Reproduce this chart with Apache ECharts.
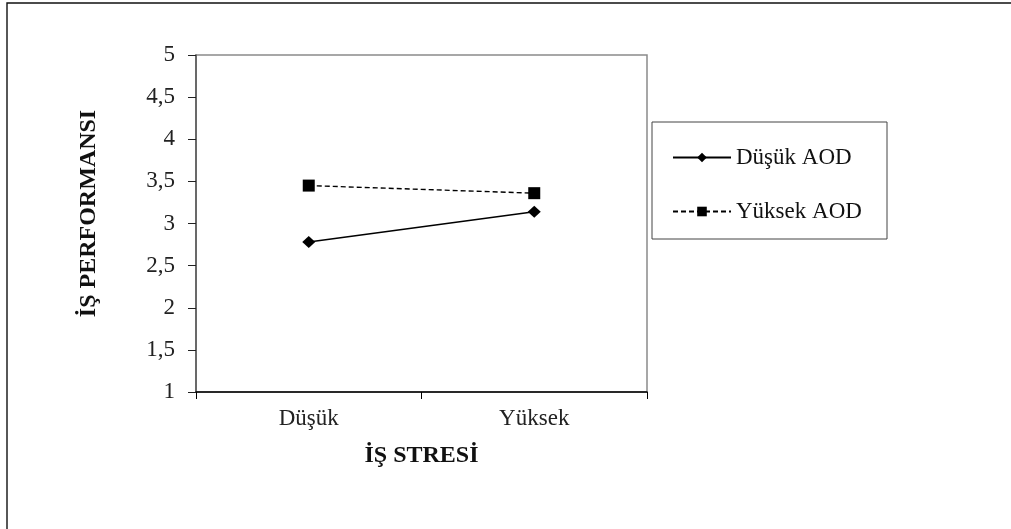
<!DOCTYPE html>
<html>
<head>
<meta charset="utf-8">
<script src="https://cdn.jsdelivr.net/npm/echarts@6/dist/echarts.min.js"></script>
<style>
  html, body { margin: 0; padding: 0; background: #fff; }
  #chart { width: 1011px; height: 529px; }
</style>
</head>
<body>
<div id="chart"></div>
<script>
// kategoriler ve seriler
const categories = ['Düşük', 'Yüksek']
const dusukAOD = [2.78, 3.14] // Düşük AOD
const yuksekAOD = [3.45, 3.36] // Yüksek AOD
const seriesNames = ['Düşük AOD', 'Yüksek AOD']
const yTicks = [1, 1.5, 2, 2.5, 3, 3.5, 4, 4.5, 5]

const serif = 'Liberation Serif, Times New Roman, serif'
const myChart = echarts.init(document.getElementById('chart'))
const option = {
  animation: false,
  backgroundColor: '#fff',
  textStyle: { fontFamily: serif },
  graphic: [
    {
      // dış çerçeve
      type: 'rect',
      shape: { x: 7, y: 3, width: 1100, height: 600 },
      style: { fill: 'none', stroke: '#111', lineWidth: 1.4 }
    },
    {
      // lejant kutusu
      type: 'rect',
      shape: { x: 652, y: 122, width: 235, height: 117 },
      style: { fill: 'none', stroke: '#444', lineWidth: 1 }
    }
  ],
  grid: {
    left: 196,
    top: 55,
    right: 364,
    bottom: 137,
    show: true,
    borderColor: '#8a8a8a',
    borderWidth: 1.5
  },
  legend: {
    orient: 'vertical',
    left: 667,
    top: 141,
    itemWidth: 58,
    itemHeight: 12,
    itemGap: 31,
    data: seriesNames,
    textStyle: { fontFamily: serif, fontSize: 23, color: '#111' }
  },
  xAxis: {
    type: 'category',
    data: categories,
    boundaryGap: true,
    name: 'İŞ STRESİ',
    nameLocation: 'middle',
    nameGap: 52,
    nameTextStyle: { fontFamily: serif, fontSize: 24, fontWeight: 'bold', color: '#111' },
    axisLine: { lineStyle: { color: '#000', width: 1.5 } },
    axisTick: { show: true, interval: 0, length: 7, lineStyle: { color: '#000' } },
    axisLabel: { margin: 15, fontFamily: serif, fontSize: 23, color: '#222' },
    splitLine: { show: false }
  },
  yAxis: {
    type: 'value',
    min: 1,
    max: 5,
    interval: 0.5,
    name: 'İŞ PERFORMANSI',
    nameLocation: 'middle',
    nameGap: 95,
    nameTextStyle: { fontFamily: serif, fontSize: 24, fontWeight: 'bold', color: '#111', padding: [0, 0, 0, 20] },
    axisLine: { show: true, lineStyle: { color: '#555', width: 1.5 } },
    axisTick: { show: true, length: 8, lineStyle: { color: '#222' } },
    axisLabel: {
      margin: 21,
      fontFamily: serif,
      fontSize: 23,
      color: '#222',
      formatter: function(v) {
        return yTicks.indexOf(v) !== -1 ? String(v).replace('.', ',') : ''
      }
    },
    splitLine: { show: false }
  },
  series: [
    {
      name: seriesNames[0],
      type: 'line',
      data: dusukAOD,
      symbol: 'diamond',
      symbolSize: [13, 12],
      itemStyle: { color: '#000' },
      lineStyle: { color: '#000', width: 1.6, type: 'solid' }
    },
    {
      name: seriesNames[1],
      type: 'line',
      data: yuksekAOD,
      symbol: 'rect',
      symbolSize: 12,
      itemStyle: { color: '#000' },
      lineStyle: { color: '#000', width: 1.4, type: [5, 3] }
    }
  ]
}
myChart.setOption(option)
</script>
</body>
</html>
